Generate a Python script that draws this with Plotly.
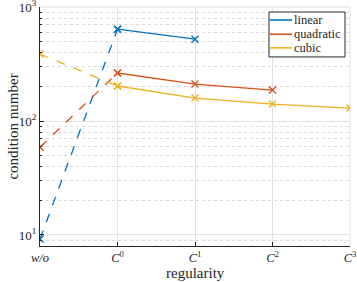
import plotly.graph_objects as go

categories = ["w/o", "C0", "C1", "C2", "C3"]
tick_labels = ["<i>w/o</i>", "<i>C</i><sup>0</sup>", "<i>C</i><sup>1</sup>", "<i>C</i><sup>2</sup>", "<i>C</i><sup>3</sup>"]
y_tick_vals = [10, 100, 1000]
y_tick_labels = ["10<sup>1</sup>", "10<sup>2</sup>", "10<sup>3</sup>"]
linear = [9.2, 640, 523]
quadratic = [59, 264, 211, 187]
cubic = [387, 203, 159, 141, 130]
series_names = ["linear", "quadratic", "cubic"]
colors = ["#0072BD", "#D95319", "#EDB120"]

SERIF = "Liberation Serif"
INK = "#262626"

fig = go.Figure()
xs = list(range(len(categories)))
for name, vals, col in zip(series_names, [linear, quadratic, cubic], colors):
    fig.add_trace(go.Scatter(x=xs[:2], y=vals[:2], mode="lines+markers",
                             line=dict(color=col, width=1.3, dash="dash"),
                             marker=dict(symbol="x-thin", size=7, line=dict(color=col, width=1.4)),
                             showlegend=False))
    fig.add_trace(go.Scatter(x=xs[1:len(vals)], y=vals[1:], mode="lines+markers", name=name,
                             line=dict(color=col, width=1.3),
                             marker=dict(symbol="x-thin", size=7, line=dict(color=col, width=1.4)),
                             showlegend=False))

# manual legend (paper coords)
bx0, bx1, by0, by1 = 0.7387, 0.9839, 0.791, 0.979
fig.add_shape(type="rect", xref="paper", yref="paper", x0=bx0, x1=bx1, y0=by0, y1=by1,
              line=dict(color=INK, width=1), fillcolor="white", layer="above")
row_y = [0.9456, 0.886, 0.829]
for name, col, ry in zip(series_names, colors, row_y):
    fig.add_shape(type="line", xref="paper", yref="paper", x0=0.742, x1=0.813, y0=ry, y1=ry,
                  line=dict(color=col, width=1.6), layer="above")
    fig.add_annotation(xref="paper", yref="paper", x=0.813, y=ry, text=name, showarrow=False,
                       xanchor="left", yanchor="middle",
                       font=dict(family=SERIF, size=12.5, color=INK))

# axis titles
fig.add_annotation(xref="paper", yref="paper", x=0.5, y=-0.115, text="regularity", showarrow=False,
                   xanchor="center", yanchor="middle", font=dict(family=SERIF, size=15, color=INK))
fig.add_annotation(xref="paper", yref="paper", x=-0.09, y=0.5, text="condition number", showarrow=False,
                   xanchor="center", yanchor="middle", textangle=-90,
                   font=dict(family=SERIF, size=15, color=INK))

fig.update_layout(
    width=357, height=282,
    margin=dict(l=40, r=7, t=7, b=36, autoexpand=False),
    plot_bgcolor="white", paper_bgcolor="white",
    font=dict(family=SERIF, size=13, color=INK),
    showlegend=False,
    xaxis=dict(range=[0, 4], tickvals=xs, ticktext=tick_labels, showgrid=True,
               gridcolor="#E0E0E0", gridwidth=1, zeroline=False,
               showline=True, linecolor=INK, linewidth=1.2, ticks="inside", ticklen=4,
               tickcolor=INK, tickfont=dict(family=SERIF, size=12.5, color=INK), automargin=False,
               ticklabeloverflow="allow"),
    yaxis=dict(type="log", range=[0.903, 3.001], tickvals=y_tick_vals, ticktext=y_tick_labels,
               showgrid=True, gridcolor="#E0E0E0", gridwidth=1, zeroline=False,
               showline=True, linecolor=INK, linewidth=1.2, ticks="inside", ticklen=4,
               tickcolor=INK, tickfont=dict(family=SERIF, size=13, color=INK), automargin=False,
               ticklabeloverflow="allow",
               minor=dict(tickvals=[8, 9, 20, 30, 40, 50, 60, 70, 80, 90, 200, 300, 400, 500, 600, 700, 800, 900],
                          showgrid=True, gridcolor="#D8D8D8", griddash="dot", ticks="inside",
                          ticklen=2, tickcolor=INK)),
)
fig.add_shape(type="line", xref="paper", yref="paper", x0=0, x1=1, y0=1, y1=1,
              line=dict(color="#E0E0E0", width=1), layer="below")
fig.add_shape(type="line", xref="paper", yref="paper", x0=1, x1=1, y0=0, y1=1,
              line=dict(color="#E0E0E0", width=1), layer="below")
fig.write_html("out.html", config={"displayModeBar": False},
               post_script="document.body.style.margin='0';")
